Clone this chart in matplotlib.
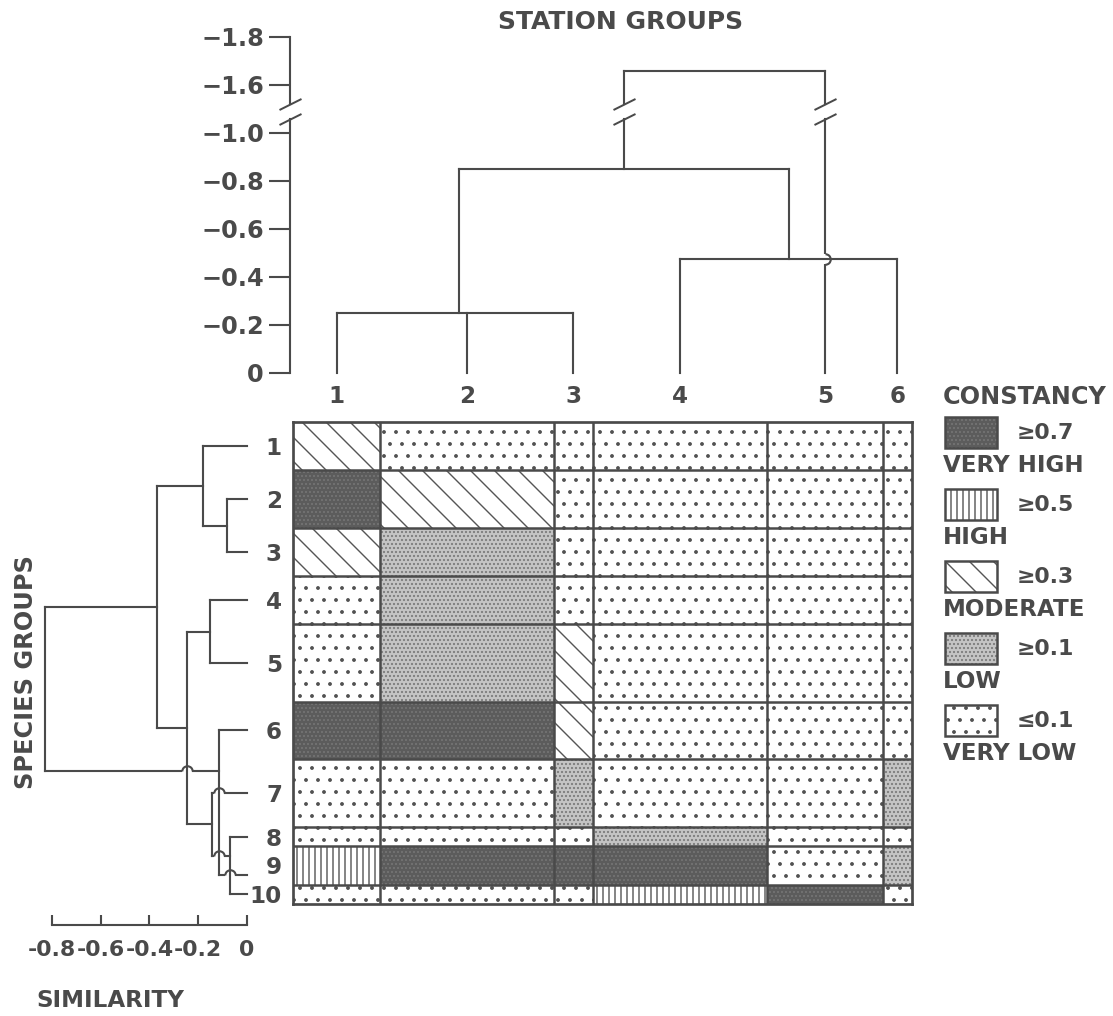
import numpy as np
import matplotlib
matplotlib.use("Agg")
import matplotlib.pyplot as plt
from matplotlib.patches import Rectangle
from matplotlib.path import Path

# ---------------- data ----------------
station_groups = ["1", "2", "3", "4", "5", "6"]
stations_per_group = [9, 18, 4, 18, 12, 3]

species_groups = ["1", "2", "3", "4", "5", "6", "7", "8", "9", "10"]
species_per_group = [5, 6, 5, 5, 8, 6, 7, 2, 4, 2]

constancy_classes = ["VH", "H", "M", "L", "VL"]
class_names = ["VERY HIGH", "HIGH", "MODERATE", "LOW", "VERY LOW"]
class_limits = ["≥0.7", "≥0.5", "≥0.3", "≥0.1", "≤0.1"]

# constancy class of each species group (rows) within each station group (columns)
constancy = [
    ["M",  "VL", "VL", "VL", "VL", "VL"],
    ["VH", "M",  "VL", "VL", "VL", "VL"],
    ["M",  "L",  "VL", "VL", "VL", "VL"],
    ["VL", "L",  "VL", "VL", "VL", "VL"],
    ["VL", "L",  "M",  "VL", "VL", "VL"],
    ["VH", "VH", "M",  "VL", "VL", "VL"],
    ["VL", "VL", "L",  "VL", "VL", "L"],
    ["VL", "VL", "VL", "L",  "VL", "VL"],
    ["H",  "VH", "VH", "VH", "VL", "L"],
    ["VL", "VL", "VL", "H",  "VH", "VL"],
]

# fusions: (members, similarity level); leaves are 0..n-1, fusion k gets id n+k
station_links = [
    ([0, 1, 2], -0.25),
    ([3, 5], -0.475),
    ([6, 7], -0.85),
    ([8, 4], -1.66),
]
species_links = [
    ([1, 2], -0.08),
    ([0, 10], -0.18),
    ([3, 4], -0.15),
    ([7, 9], -0.07),
    ([6, 13], -0.145),
    ([12, 14], -0.245),
    ([11, 15], -0.37),
    ([5, 8], -0.115),
    ([16, 17], -0.83),
]

station_ticks = [0, -0.2, -0.4, -0.6, -0.8, -1.0, -1.6, -1.8]
similarity_ticks = [-0.8, -0.6, -0.4, -0.2, 0]

# ---------------- style ----------------
DPI = 144
W, H = 1113, 1016


def pt(px):
    """pixel size -> points at the figure resolution"""
    return px * 72.0 / DPI


INK = "#4a4a4a"
LW = pt(2.1)
plt.rcParams["font.family"] = ["DejaVu Sans"]
plt.rcParams["font.weight"] = "bold"
plt.rcParams["axes.labelweight"] = "bold"
plt.rcParams["text.color"] = INK
plt.rcParams["hatch.linewidth"] = pt(1.4)

DOT = chr(46)
BSL = chr(92)
styles = {
    "VH": dict(facecolor="#5c5c5c", hatch=DOT * 6, edgecolor="#747474"),
    "H":  dict(facecolor="white", hatch="|" * 4, edgecolor="#555555"),
    "M":  dict(facecolor="white", hatch=BSL * 2, edgecolor="#555555"),
    "L":  dict(facecolor="#c4c4c4", hatch=DOT * 6, edgecolor="#7a7a7a"),
    "VL": dict(facecolor="white", hatch=DOT * 2, edgecolor="#505050"),
}

fig = plt.figure(figsize=(W / DPI, H / DPI), dpi=DPI)
fig.patch.set_facecolor("white")


def px_axes(x0, y0, x1, y1):
    return fig.add_axes([x0 / W, 1 - y1 / H, (x1 - x0) / W, (y1 - y0) / H])


SLASH = Path([(-1, -0.5), (1, 0.5)], [Path.MOVETO, Path.LINETO])
ARC_UP = Path.arc(0, 180)
ARC_RIGHT = Path.arc(-90, 90)
HOP = pt(10.5)


def draw_tree(ax, links, leaf_pos, override, orient, hop_shape, hop_erase, gap=None):
    n = len(leaf_pos)
    pos = {i: p for i, p in enumerate(leaf_pos)}
    lev = {i: 0.0 for i in range(n)}
    for k, (members, level) in enumerate(links):
        nid = n + k
        pos[nid] = override.get(nid, float(np.mean([pos[m] for m in members])))
        lev[nid] = level

    def xy(p, l):
        return (p, l) if orient == "top" else (l, p)

    legs, bars = [], []
    for members, level in links:
        for m in members:
            legs.append((pos[m], lev[m], level))
        ps = [pos[m] for m in members]
        bars.append((level, min(ps), max(ps)))

    eps = 1e-6
    for p, a, b in legs:
        lo, hi = min(a, b), max(a, b)
        pieces = [(lo, hi)]
        if gap is not None and lo < gap[0] and hi > gap[1]:
            pieces = [(lo, gap[0]), (gap[1], hi)]
            for g in gap:
                x, y = xy(p, g)
                ax.plot(x, y, marker=SLASH, ms=pt(22), mew=pt(2), color=INK,
                        ls="none", zorder=4, clip_on=False)
        for s, e in pieces:
            (x0, y0), (x1, y1) = xy(p, s), xy(p, e)
            ax.plot([x0, x1], [y0, y1], color=INK, lw=LW, zorder=2,
                    solid_capstyle="projecting", clip_on=False)
        for lb, q0, q1 in bars:
            if q0 + eps < p < q1 - eps and lo + eps < lb < hi - eps:
                x, y = xy(p, lb)
                ax.plot(x, y, marker=hop_erase, ms=HOP, mew=pt(6), color="white",
                        ls="none", zorder=2.5, clip_on=False)
                ax.plot(x, y, marker=hop_shape, ms=HOP, mew=LW, mfc="none",
                        mec=INK, ls="none", zorder=3.5, clip_on=False)
    for lb, q0, q1 in bars:
        (x0, y0), (x1, y1) = xy(q0, lb), xy(q1, lb)
        ax.plot([x0, x1], [y0, y1], color=INK, lw=LW, zorder=3,
                solid_capstyle="projecting", clip_on=False)


# ---------------- heat map ----------------
xe = np.concatenate([[0], np.cumsum(stations_per_group)])
ye = np.concatenate([[0], np.cumsum(species_per_group)])
xc = (xe[:-1] + xe[1:]) / 2
yc = (ye[:-1] + ye[1:]) / 2

hm = px_axes(293, 422, 912, 904)
for i, row in enumerate(constancy):
    for j, c in enumerate(row):
        hm.add_patch(Rectangle((xe[j], ye[i]), xe[j + 1] - xe[j], ye[i + 1] - ye[i],
                               lw=0, **styles[c]))
hm.set_xlim(0, xe[-1])
hm.set_ylim(ye[-1], 0)
hm.vlines(xe[1:-1], 0, ye[-1], color=INK, lw=pt(2.5), zorder=3)
hm.hlines(ye[1:-1], 0, xe[-1], color=INK, lw=pt(2.5), zorder=3)
for s in hm.spines.values():
    s.set_color(INK)
    s.set_linewidth(pt(2.7))
    s.set_zorder(4)
hm.xaxis.tick_top()
hm.set_xticks(xc, station_groups)
hm.set_yticks(yc, species_groups)
hm.tick_params(length=0, labelsize=pt(23), labelcolor=INK)
hm.tick_params(axis="x", pad=pt(14))
hm.tick_params(axis="y", pad=pt(11))

# ---------------- station dendrogram (broken similarity axis) ----------------
def _mag_to_pos(d):
    d = np.asarray(d, float)
    return np.where(d <= 1.0, d, np.where(d <= 1.6, 1.0 + (d - 1.0) / 3.0, d - 0.4))


def _pos_to_mag(p):
    p = np.asarray(p, float)
    return np.where(p <= 1.0, p, np.where(p <= 1.2, 1.0 + (p - 1.0) * 3.0, p + 0.4))


def broken_fwd(v):
    return -_mag_to_pos(-np.asarray(v, float))


def broken_inv(p):
    return -_pos_to_mag(-np.asarray(p, float))


top = px_axes(290, 25, 912, 373)
top.set_yscale("function", functions=(broken_fwd, broken_inv))
top.set_xlim(-3 / (619 / xe[-1]), xe[-1])
top.set_ylim(0, -1.85)
for s in top.spines.values():
    s.set_visible(False)
top.set_xticks([])
top.set_yticks(station_ticks,
               ["0" if t == 0 else "\u2212%.1f" % abs(t) for t in station_ticks])
top.tick_params(axis="y", direction="out", length=pt(21), width=LW, color=INK,
                pad=pt(5), labelsize=pt(24), labelcolor=INK)
top.patch.set_alpha(0)

gap = (-1.36, -1.18)
yax = top.get_yaxis_transform()
top.plot([0, 0], [0, gap[1]], color=INK, lw=LW, transform=yax, clip_on=False)
top.plot([0, 0], [gap[0], -1.8], color=INK, lw=LW, transform=yax, clip_on=False)
for g in gap:
    top.plot([0], [g], marker=SLASH, ms=pt(22), mew=pt(2), color=INK, ls="none",
             transform=yax, clip_on=False)

draw_tree(top, station_links, list(xc), {}, "top", ARC_RIGHT, "|", gap=gap)

fig.text(621 / W, 1 - 22 / H, "STATION GROUPS", ha="center", va="center",
         fontsize=pt(25), color=INK)

# ---------------- species dendrogram ----------------
left = px_axes(40, 422, 252, 904)
left.set_xlim(-0.849, 0.0205)
left.set_ylim(ye[-1], 0)
left.patch.set_alpha(0)
for k in ("top", "right", "left"):
    left.spines[k].set_visible(False)
sp = left.spines["bottom"]
sp.set_position(("outward", pt(21)))
sp.set_bounds(-0.8, 0)
sp.set_color(INK)
sp.set_linewidth(LW)
left.set_yticks([])
left.set_xticks(similarity_ticks,
                ["0" if t == 0 else "-%.1f" % abs(t) for t in similarity_ticks])
left.tick_params(axis="x", direction="in", length=pt(10), width=LW, color=INK,
                 pad=pt(15), labelsize=pt(22), labelcolor=INK)
left.set_xlabel("SIMILARITY", fontsize=pt(23), color=INK)
left.xaxis.set_label_coords((110 - 40) / 212, (904 - 989) / 482)
left.set_ylabel("SPECIES GROUPS", fontsize=pt(24), color=INK)
left.yaxis.set_label_coords((38 - 40) / 212, (904 - 672) / 482)

leaf_rows = list(yc)
leaf_rows[8] = 47.0
draw_tree(left, species_links, leaf_rows, {13: 45.0, 17: 36.2}, "left",
          ARC_UP, "_")

# ---------------- key ----------------
key = px_axes(935, 375, 1113, 775)
key.set_xlim(0, 178)
key.set_ylim(400, 0)
key.axis("off")
key.text(8, 22, "CONSTANCY", fontsize=pt(24), va="center", ha="left", color=INK)
for i, (c, name, lim) in enumerate(zip(constancy_classes, class_names, class_limits)):
    y0 = 42 + 72 * i
    key.add_patch(Rectangle((10, y0), 52, 31, lw=0, **styles[c]))
    key.add_patch(Rectangle((10, y0), 52, 31, fill=False, lw=pt(2.5), edgecolor=INK))
    key.text(82, y0 + 16, lim, fontsize=pt(22), va="center", ha="left", color=INK)
    key.text(8, y0 + 49, name, fontsize=pt(23), va="center", ha="left", color=INK)

fig.savefig("out.png", dpi=DPI, facecolor="white")
